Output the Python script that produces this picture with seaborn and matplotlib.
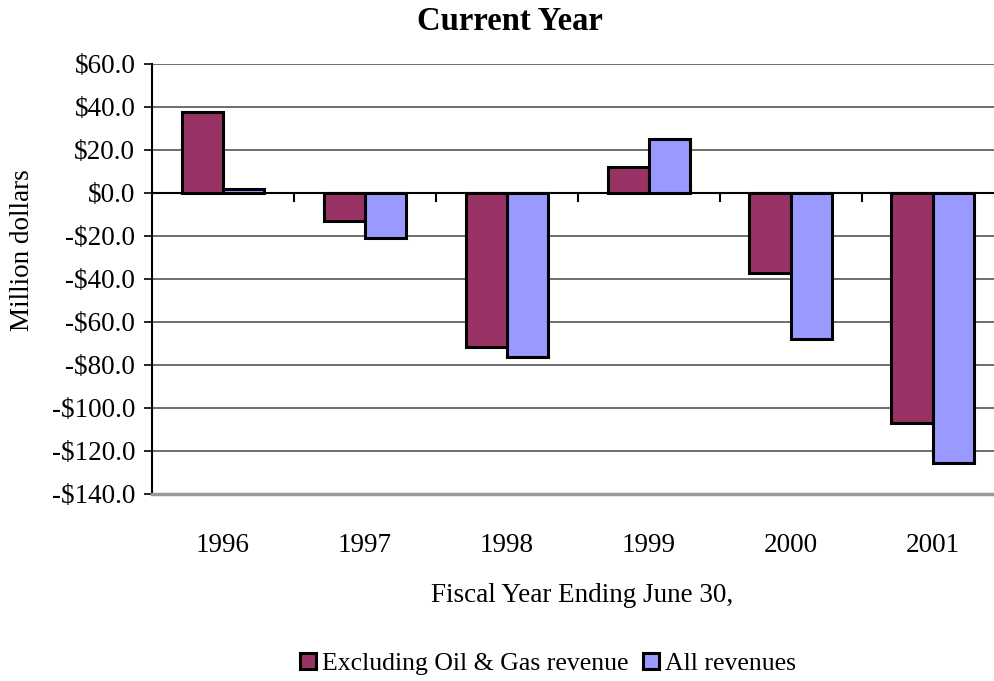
import matplotlib
matplotlib.use("Agg")
import matplotlib.pyplot as plt
import seaborn as sns
import pandas as pd

years = ["1996", "1997", "1998", "1999", "2000", "2001"]
excl_oil_gas = [37.8, -12.9, -71.5, 12.0, -37.2, -107.1]
all_revenues = [1.7, -20.8, -76.3, 25.1, -67.9, -125.4]
series_names = ["Excluding Oil & Gas revenue", "All revenues"]
y_ticks = [60, 40, 20, 0, -20, -40, -60, -80, -100, -120, -140]

df = pd.DataFrame({
    "Year": years * 2,
    "Value": excl_oil_gas + all_revenues,
    "Series": [series_names[0]] * len(years) + [series_names[1]] * len(years),
})

sns.set_style("white")
plt.rcParams["font.family"] = ["Liberation Serif", "DejaVu Serif"]
plt.rcParams["text.color"] = "black"
plt.rcParams["axes.labelcolor"] = "black"
plt.rcParams["xtick.color"] = "black"
plt.rcParams["ytick.color"] = "black"

fs = 19.5
fig = plt.figure(figsize=(9.95, 6.81), dpi=100)
ax = fig.add_axes([152 / 995, 187 / 681, 1 - 152 / 995, 430 / 681])

palette = {series_names[0]: "#993366", series_names[1]: "#9999FF"}
sns.barplot(data=df, x="Year", y="Value", hue="Series", palette=palette,
            width=0.58, edgecolor="black", linewidth=2.2, saturation=1,
            ax=ax, zorder=3)

ax.set_ylim(-140, 60)
ax.set_xlim(-0.5, 5.44)
ax.set_yticks(y_ticks)
ax.set_yticklabels([f"${v:.1f}" if v >= 0 else f"-${-v:.1f}" for v in y_ticks])
ax.yaxis.grid(True, color="#555555", linewidth=1.2, zorder=0)
ax.tick_params(axis="y", length=6, width=1.2, color="black", labelsize=fs, direction="out", left=True, pad=6)
ax.tick_params(axis="x", length=0, labelsize=fs, pad=28)

for s in ["top", "right"]:
    ax.spines[s].set_visible(False)
ax.spines["left"].set_color("black")
ax.spines["left"].set_linewidth(1.5)
ax.spines["bottom"].set_color("#999999")
ax.spines["bottom"].set_linewidth(2.5)

# category axis at zero with ticks between groups
ax.axhline(0, color="black", linewidth=1.5, zorder=2)
ax.vlines([i + 0.5 for i in range(len(years) - 1)], -4.3, 0, color="black", linewidth=1.5, zorder=2)

ax.set_xlabel("Fiscal Year Ending June 30,", fontsize=fs)
ax.xaxis.set_label_coords((582 - 152) / 843, (494 - 595) / 430)
ax.xaxis.label.set_va("center")
ax.set_ylabel("Million dollars", fontsize=fs)
ax.yaxis.set_label_coords((22 - 152) / 843, (494 - 250) / 430)
ax.yaxis.label.set_va("center")

fig.text(510 / 995, 1 - 22 / 681, "Current Year", ha="center", va="center",
         fontsize=23.5, fontweight="bold")

ax.legend(loc="center", bbox_to_anchor=(548 / 995, 1 - 664 / 681), bbox_transform=fig.transFigure,
          ncol=2, frameon=False, fontsize=18.5, handlelength=0.62, handleheight=0.62,
          handletextpad=0.23, columnspacing=0.58, borderaxespad=0)

fig.savefig("out.png", dpi=100)
